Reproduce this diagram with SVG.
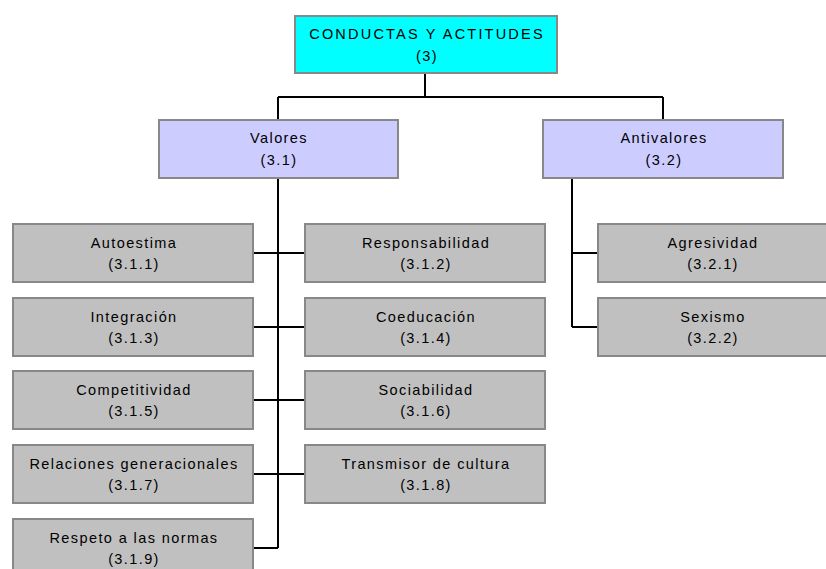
<svg xmlns="http://www.w3.org/2000/svg" width="826" height="569" viewBox="0 0 826 569">
  <style>
    .box { stroke: #888888; stroke-width: 2; }
    .root { fill: #00ffff; }
    .cat { fill: #ccccff; }
    .leaf { fill: #c0c0c0; }
    .lbl { font-family: "Liberation Sans", Arial, sans-serif; font-size: 14.5px; fill: #000; text-anchor: middle; letter-spacing: 1.4px; }
    .wide { letter-spacing: 2.2px; }
    .wire { stroke: #000; stroke-width: 2; fill: none; }
  </style>
  <rect width="826" height="569" fill="#ffffff"/>

  <!-- connectors -->
  <g id="connectors" class="wire">
    <path d="M425,73 V97 M278,97 H663 M278,97 V120 M663,97 V120"/>
    <path d="M278,178 V548"/>
    <path d="M253,253 H305 M253,327 H305 M253,400 H305 M253,474 H305 M253,548 H278"/>
    <path d="M572,178 V327 M572,253 H598 M572,327 H598"/>
  </g>

  <g id="n3">
    <rect class="box root" x="295" y="16" width="262" height="57"/>
    <text class="lbl wide" x="427" y="39">CONDUCTAS Y ACTITUDES</text>
    <text class="lbl" x="427" y="61">(3)</text>
  </g>

  <g id="n3-1">
    <rect class="box cat" x="159" y="120" width="239" height="58"/>
    <text class="lbl" x="279" y="143">Valores</text>
    <text class="lbl" x="279" y="165">(3.1)</text>
  </g>

  <g id="n3-2">
    <rect class="box cat" x="543" y="120" width="240" height="58"/>
    <text class="lbl" x="664" y="143">Antivalores</text>
    <text class="lbl" x="664" y="165">(3.2)</text>
  </g>

  <g id="n3-1-1">
    <rect class="box leaf" x="13" y="224" width="240" height="58"/>
    <text class="lbl" x="134" y="248">Autoestima</text>
    <text class="lbl" x="134" y="269">(3.1.1)</text>
  </g>
  <g id="n3-1-2">
    <rect class="box leaf" x="305" y="224" width="240" height="58"/>
    <text class="lbl" x="426" y="248">Responsabilidad</text>
    <text class="lbl" x="426" y="269">(3.1.2)</text>
  </g>
  <g id="n3-1-3">
    <rect class="box leaf" x="13" y="298" width="240" height="58"/>
    <text class="lbl" x="134" y="322">Integración</text>
    <text class="lbl" x="134" y="343">(3.1.3)</text>
  </g>
  <g id="n3-1-4">
    <rect class="box leaf" x="305" y="298" width="240" height="58"/>
    <text class="lbl" x="426" y="322">Coeducación</text>
    <text class="lbl" x="426" y="343">(3.1.4)</text>
  </g>
  <g id="n3-1-5">
    <rect class="box leaf" x="13" y="371" width="240" height="58"/>
    <text class="lbl" x="134" y="395">Competitividad</text>
    <text class="lbl" x="134" y="416">(3.1.5)</text>
  </g>
  <g id="n3-1-6">
    <rect class="box leaf" x="305" y="371" width="240" height="58"/>
    <text class="lbl" x="426" y="395">Sociabilidad</text>
    <text class="lbl" x="426" y="416">(3.1.6)</text>
  </g>
  <g id="n3-1-7">
    <rect class="box leaf" x="13" y="445" width="240" height="58"/>
    <text class="lbl" x="134" y="469">Relaciones generacionales</text>
    <text class="lbl" x="134" y="490">(3.1.7)</text>
  </g>
  <g id="n3-1-8">
    <rect class="box leaf" x="305" y="445" width="240" height="58"/>
    <text class="lbl" x="426" y="469">Transmisor de cultura</text>
    <text class="lbl" x="426" y="490">(3.1.8)</text>
  </g>
  <g id="n3-1-9">
    <rect class="box leaf" x="13" y="519" width="240" height="58"/>
    <text class="lbl" x="134" y="543">Respeto a las normas</text>
    <text class="lbl" x="134" y="564">(3.1.9)</text>
  </g>

  <g id="n3-2-1">
    <rect class="box leaf" x="598" y="224" width="240" height="58"/>
    <text class="lbl" x="713" y="248">Agresividad</text>
    <text class="lbl" x="713" y="269">(3.2.1)</text>
  </g>
  <g id="n3-2-2">
    <rect class="box leaf" x="598" y="298" width="240" height="58"/>
    <text class="lbl" x="713" y="322">Sexismo</text>
    <text class="lbl" x="713" y="343">(3.2.2)</text>
  </g>
</svg>
